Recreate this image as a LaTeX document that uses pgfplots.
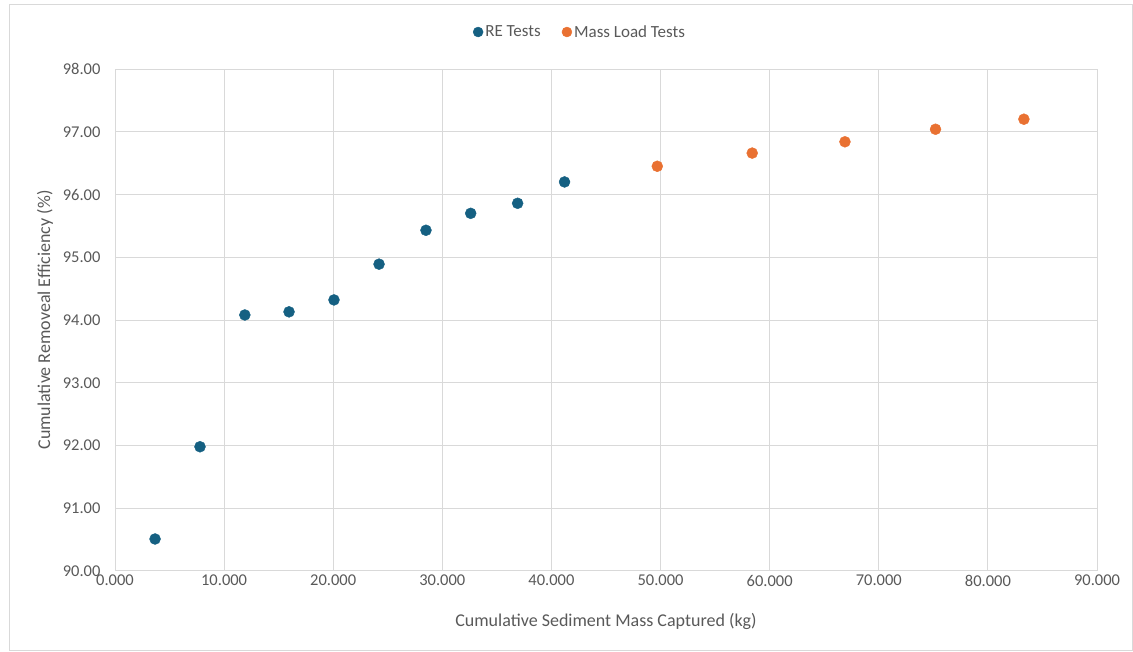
\documentclass[border=0pt]{standalone}
\usepackage{pgfplots}
\pgfplotsset{compat=1.18}
\usepackage{fontspec}
\setmainfont{Carlito}
\definecolor{reblue}{HTML}{156082}
\definecolor{mlorange}{HTML}{E97132}
\definecolor{gridgray}{HTML}{D9D9D9}
\definecolor{txtgray}{HTML}{595959}
\begin{document}
\begin{tikzpicture}[x=1pt,y=1pt]
\useasboundingbox (0,0) rectangle (1133,651);
\draw[gridgray, line width=1pt] (9.5,0.5) rectangle (1132.5,646.5);
\begin{axis}[
  at={(115pt,80pt)}, anchor=south west,
  scale only axis, width=982pt, height=502pt,
  xmin=0, xmax=90, ymin=90, ymax=98,
  xtick={0,10,...,90}, ytick={90,91,...,98},
  grid=major, major grid style={gridgray, line width=1pt},
  axis line style={gridgray, line width=1pt},
  tick style={draw=none},
  font=\fontsize{16.5}{19}\selectfont,
  tick label style={txtgray},
  /pgf/number format/assume math mode=true,
  xticklabel={\pgfmathprintnumber[fixed,fixed zerofill,precision=3]{\tick}},
  yticklabel={\pgfmathprintnumber[fixed,fixed zerofill,precision=2]{\tick}},
  x tick label style={yshift=-0.5pt},
  y tick label style={xshift=-11pt},
  xlabel={Cumulative Sediment Mass Captured (kg)},
  ylabel={Cumulative Removeal Efficiency (\%)},
  label style={txtgray, font=\fontsize{18}{21}\selectfont},
  xlabel style={at={(axis description cs:0.5,-0.0996)}, anchor=center},
  ylabel style={at={(axis description cs:-0.0713,0.5)}, anchor=center},
  legend columns=2,
  legend style={at={(0.4735,1.0737)}, anchor=center, draw=none, fill=none,
    font=\fontsize{17}{20}\selectfont, text=txtgray,
    /tikz/every even column/.append style={column sep=19pt}},
  legend cell align=left,
  legend image code/.code={\fill[#1] (0.1cm,0cm) circle (5pt);},
]
\addplot[only marks, mark=*, mark size=5.5pt, color=reblue] coordinates {
(3.67,90.51) (7.79,91.98) (11.90,94.08) (15.95,94.13) (20.07,94.32)
(24.20,94.89) (28.50,95.43) (32.60,95.70) (36.90,95.86) (41.20,96.20)
};
\addlegendentry{RE Tests}
\addplot[only marks, mark=*, mark size=5.5pt, color=mlorange] coordinates {
(49.70,96.45) (58.40,96.66) (66.90,96.84) (75.20,97.04) (83.30,97.20)
};
\addlegendentry{Mass Load Tests}
\end{axis}
\end{tikzpicture}
\end{document}
